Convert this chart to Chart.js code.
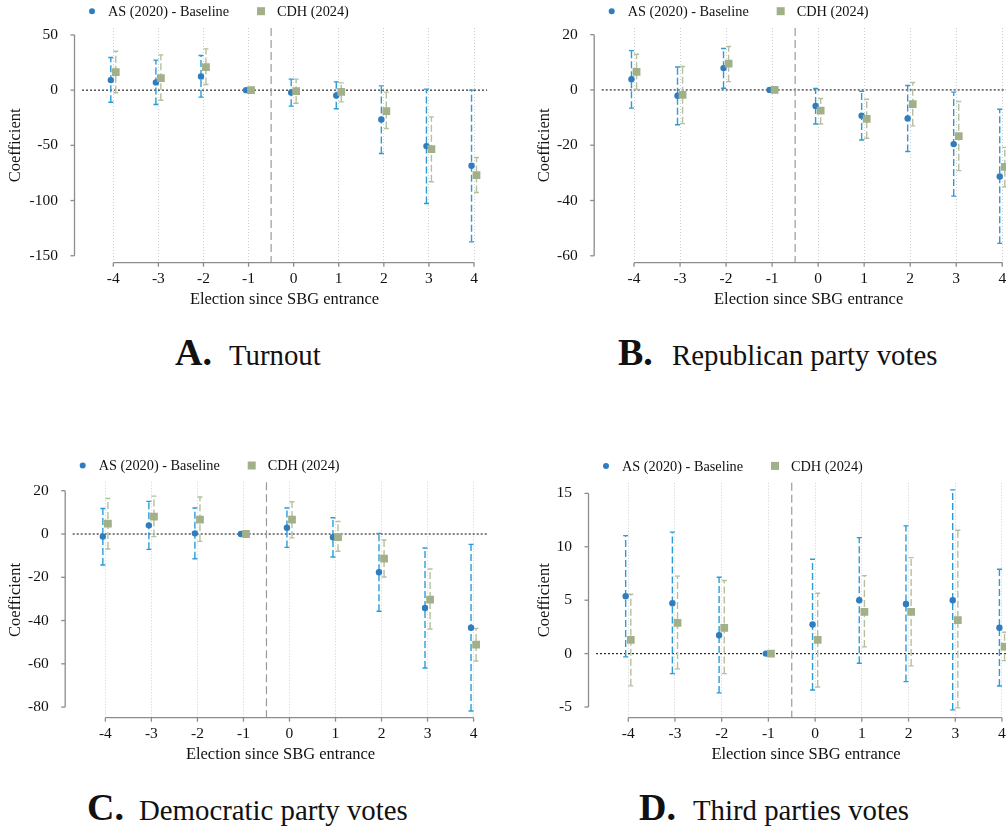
<!DOCTYPE html>
<html>
<head>
<meta charset="utf-8">
<script src="https://cdn.jsdelivr.net/npm/chart.js@4.4.1/dist/chart.umd.min.js"></script>
<style>
    html, body { margin: 0; padding: 0; background: #fff; overflow: hidden; }
    #page { position: relative; width: 1006px; height: 827px; overflow: hidden; background: #fff; }
    canvas { position: absolute; }
    .ttl { position: absolute; font-family: "Liberation Serif", "Times New Roman", serif; color: #111; line-height: 1; white-space: nowrap; }
    .ttl.big { font-weight: bold; font-size: 38px; }
    .ttl.txt { font-size: 28.8px; }
</style>
</head>
<body>
<div id="page">
    <canvas id="chartA" width="503" height="320" style="left:0;top:0"></canvas>
    <canvas id="chartB" width="540" height="320" style="left:503px;top:0"></canvas>
    <canvas id="chartC" width="503" height="320" style="left:0;top:450px"></canvas>
    <canvas id="chartD" width="540" height="320" style="left:503px;top:450px"></canvas>
</div>
<script>
const elections = [-4, -3, -2, -1, 0, 1, 2, 3, 4];
const seriesLabels = ['AS (2020) - Baseline', 'CDH (2024)'];

// A. Turnout
const turnoutAS    = [9.1, 7.0, 12.4, 0, -2.1, -4.8, -26.6, -50.7, -68.5];
const turnoutASLo  = [-10.9, -13.0, -6.3, null, -14.5, -16.9, -57.4, -102.7, -137.4];
const turnoutASHi  = [29.6, 27.2, 31.4, null, 10.0, 7.5, 3.9, 0.9, 0.0];
const turnoutCDH   = [16.3, 10.9, 20.8, 0, -0.9, -1.5, -19.0, -53.4, -77.0];
const turnoutCDHLo = [-2.4, -9.1, 5.1, null, -11.8, -10.6, -34.7, -83.0, -92.7];
const turnoutCDHHi = [35.3, 32.0, 37.4, null, 10.0, 6.6, -1.8, -24.2, -61.0];
const turnoutTicks = [50, 0, -50, -100, -150];

// B. Republican party votes
const repAS    = [3.9, -2.1, 7.9, 0, -5.8, -9.3, -10.3, -19.6, -31.3];
const repASLo  = [-6.6, -12.6, 0.6, null, -12.3, -18.1, -22.3, -38.4, -55.5];
const repASHi  = [14.2, 8.3, 15.0, null, 0.5, -0.5, 1.6, -0.8, -7.0];
const repCDH   = [6.5, -1.8, 9.5, 0, -7.5, -10.5, -5.1, -16.7, -27.8];
const repCDHLo = [0.2, -12.2, 3.0, null, -12.3, -17.5, -13.0, -29.2, -35.0];
const repCDHHi = [12.9, 8.5, 15.7, null, -3.1, -3.4, 2.7, -4.2, -20.8];
const repTicks = [20, 0, -20, -40, -60];

// C. Democratic party votes
const demAS    = [-1.2, 4.0, 0.3, 0, 2.9, -1.5, -17.7, -34.2, -43.3];
const demASLo  = [-14.3, -7.1, -11.4, null, -6.2, -10.6, -35.7, -61.9, -81.8];
const demASHi  = [11.8, 15.1, 12.0, null, 12.0, 7.5, 0.3, -6.5, -4.8];
const demCDH   = [4.8, 8.0, 6.6, 0, 6.6, -1.4, -11.4, -30.3, -51.1];
const demCDHLo = [-6.9, -1.2, -3.4, null, -1.8, -8.0, -19.9, -43.9, -58.7];
const demCDHHi = [16.4, 17.5, 17.1, null, 14.9, 5.8, -2.8, -16.2, -43.6];
const demTicks = [20, 0, -20, -40, -60, -80];

// D. Third parties votes
const thirdAS    = [5.37, 4.72, 1.72, 0, 2.72, 5.0, 4.65, 5.0, 2.42];
const thirdASLo  = [-0.31, -1.87, -3.68, null, -3.40, -0.9, -2.62, -5.27, -3.03];
const thirdASHi  = [11.05, 11.37, 7.15, null, 8.84, 10.86, 11.96, 15.33, 7.9];
const thirdCDH   = [1.28, 2.87, 2.41, 0, 1.28, 3.9, 3.9, 3.13, 0.66];
const thirdCDHLo = [-3.02, -1.43, -1.87, null, -3.12, 0.63, -1.15, -5.08, -0.66];
const thirdCDHHi = [5.56, 7.25, 6.84, null, 5.65, 7.3, 8.99, 11.55, 2.0];
const thirdTicks = [15, 10, 5, 0, -5];

const FONT = '"Liberation Serif", "Times New Roman", serif';
const blue = '#2f7cbf', blueCI = '#2a9dd8';
const green = '#a2b089', greenCI = '#b4c09f';
const shift = 0.055;

const panels = [
    { id: 'chartA', letter: 'A.', title: 'Turnout', lx: 175, tx: 229, base: 365,
      as: [turnoutAS, turnoutASLo, turnoutASHi], cdh: [turnoutCDH, turnoutCDHLo, turnoutCDHHi], yTicks: turnoutTicks,
      x: [-4.694, 4.288], y: [-156.3, 56.3], yWidth: 82, pad: [28, 16, 9.3], yTitlePad: 6 },
    { id: 'chartB', letter: 'B.', title: 'Republican party votes', lx: 618, tx: 672, base: 365,
      as: [repAS, repASLo, repASHi], cdh: [repCDH, repCDHLo, repCDHHi], yTicks: repTicks,
      x: [-4.702, 4.29], y: [-62.5, 22.4], yWidth: 98.7, pad: [28, 27.4, 9.3], yTitlePad: 31.6 },
    { id: 'chartC', letter: 'C.', title: 'Democratic party votes', lx: 87, tx: 139, base: 820,
      as: [demAS, demASLo, demASHi], cdh: [demCDH, demCDHLo, demCDHHi], yTicks: demTicks,
      x: [-4.71, 4.32], y: [-84.9, 23.9], yWidth: 72.7, pad: [32.3, 14.7, 4.3], yTitlePad: 5.8 },
    { id: 'chartD', letter: 'D.', title: 'Third parties votes', lx: 639, tx: 693, base: 820,
      as: [thirdAS, thirdASLo, thirdASHi], cdh: [thirdCDH, thirdCDHLo, thirdCDHHi], yTicks: thirdTicks,
      x: [-4.69, 4.3], y: [-6.0, 16.0], yWidth: 93, pad: [32.7, 27, 4.3], yTitlePad: 31.3 }
];

// vertical segments for the confidence intervals, broken by null points
function ciData(lo, hi, dx) {
    const pts = [];
    elections.forEach((e, i) => {
        if (lo[i] == null) return;
        pts.push({ x: e + dx, y: lo[i] }, { x: e + dx, y: hi[i] }, { x: e + dx, y: null });
    });
    return pts;
}

function line(ctx, x1, y1, x2, y2) {
    ctx.beginPath();
    ctx.moveTo(x1, y1);
    ctx.lineTo(x2, y2);
    ctx.stroke();
}

// Stata-like frame: detached axes, zero line, treatment line, legend
const stataFrame = {
    id: 'stataFrame',
    beforeDatasetsDraw(chart) {
        const { ctx, chartArea: a, scales: { x, y } } = chart;
        ctx.save();
        ctx.strokeStyle = '#2b2b2b';
        ctx.lineWidth = 1.2;
        ctx.setLineDash([2, 2]);
        const y0 = y.getPixelForValue(0);
        line(ctx, a.left, y0, a.right, y0);

        ctx.strokeStyle = '#9a9a9a';
        ctx.setLineDash([8, 4]);
        const xv = x.getPixelForValue(-0.5);
        line(ctx, xv, a.top, xv, a.bottom);
        ctx.setLineDash([]);

        ctx.strokeStyle = '#8c8c8c';
        ctx.lineWidth = 1.3;
        const yt = y.ticks.map(t => y.getPixelForValue(t.value));
        const ax = a.left - 7.5;
        line(ctx, ax, Math.min(...yt), ax, Math.max(...yt));
        yt.forEach(p => line(ctx, ax - 4, p, ax, p));
        const xt = x.ticks.map(t => x.getPixelForValue(t.value));
        line(ctx, Math.min(...xt), a.bottom, Math.max(...xt), a.bottom);
        xt.forEach(p => line(ctx, p, a.bottom, p, a.bottom + 4));
        ctx.restore();
    },
    afterDraw(chart) {
        const { ctx, chartArea: a } = chart;
        const items = chart.data.datasets.filter(d => !d.isCI);
        const ly = a.top - 16.8;
        ctx.save();
        ctx.font = '14.3px ' + FONT;
        ctx.textBaseline = 'middle';
        items.forEach((d, i) => {
            const mx = a.left + 10 + i * 169;
            ctx.fillStyle = d.backgroundColor;
            if (d.pointStyle === 'circle') {
                ctx.beginPath();
                ctx.arc(mx, ly, 3, 0, Math.PI * 2);
                ctx.fill();
            } else {
                ctx.fillRect(mx - 4, ly - 4, 8, 8);
            }
            ctx.fillStyle = '#111';
            ctx.fillText(d.label, mx + 16, ly + 1);
        });
        ctx.restore();
    }
};

function makeChart(p) {
    const ciStyle = (color) => ({
        isCI: true, showLine: true, borderColor: color, borderWidth: 1.4, borderDash: [7, 3],
        pointStyle: 'line', pointRadius: 2.5, pointBorderColor: color, pointBorderWidth: 1.4
    });
    return new Chart(document.getElementById(p.id), {
        type: 'scatter',
        data: {
            datasets: [
                { label: seriesLabels[0], data: elections.map((e, i) => ({ x: e - shift, y: p.as[0][i] })),
                  pointStyle: 'circle', pointRadius: 3.2, backgroundColor: blue, borderWidth: 0, order: 1 },
                { label: seriesLabels[1], data: elections.map((e, i) => ({ x: e + shift, y: p.cdh[0][i] })),
                  pointStyle: 'rect', pointRadius: 5.5, backgroundColor: green, borderWidth: 0, order: 0 },
                Object.assign({ label: 'AS CI', data: ciData(p.as[1], p.as[2], -shift), order: 2 }, ciStyle(blueCI)),
                Object.assign({ label: 'CDH CI', data: ciData(p.cdh[1], p.cdh[2], shift), order: 3 }, ciStyle(greenCI))
            ]
        },
        options: {
            responsive: false,
            animation: false,
            events: [],
            layout: { padding: { left: 0, top: p.pad[0], right: p.pad[1], bottom: p.pad[2] } },
            plugins: { legend: { display: false }, tooltip: { enabled: false } },
            scales: {
                x: {
                    type: 'linear', min: p.x[0], max: p.x[1],
                    afterBuildTicks: s => { s.ticks = elections.map(v => ({ value: v })); },
                    afterFit: s => { s.height = 48; },
                    grid: { color: '#cfcfcf', lineWidth: 1, drawTicks: false },
                    border: { display: false, dash: [1, 2] },
                    ticks: { padding: 7.3, color: '#111', font: { family: FONT, size: 15.5 } },
                    title: { display: true, text: 'Election since SBG entrance', color: '#111',
                             font: { family: FONT, size: 16.5 }, padding: { top: 0, bottom: 0.8 } }
                },
                y: {
                    type: 'linear', min: p.y[0], max: p.y[1],
                    afterBuildTicks: s => { s.ticks = p.yTicks.map(v => ({ value: v })); },
                    afterFit: s => { s.width = p.yWidth; },
                    grid: { display: false },
                    border: { display: false },
                    ticks: { padding: 16, color: '#111', font: { family: FONT, size: 15.5 } },
                    title: { display: true, text: 'Coefficient', color: '#111',
                             font: { family: FONT, size: 16.5 }, padding: { top: p.yTitlePad, bottom: 0 } }
                }
            }
        },
        plugins: [stataFrame]
    });
}

const page = document.getElementById('page');
panels.forEach(p => {
    makeChart(p);
    const big = document.createElement('span');
    big.className = 'ttl big';
    big.textContent = p.letter;
    big.style.left = p.lx + 'px';
    big.style.top = (p.base - 0.8375 * 38) + 'px';
    const txt = document.createElement('span');
    txt.className = 'ttl txt';
    txt.textContent = p.title;
    txt.style.left = p.tx + 'px';
    txt.style.top = (p.base - 0.8375 * 28.8) + 'px';
    page.appendChild(big);
    page.appendChild(txt);
});
</script>
</body>
</html>
